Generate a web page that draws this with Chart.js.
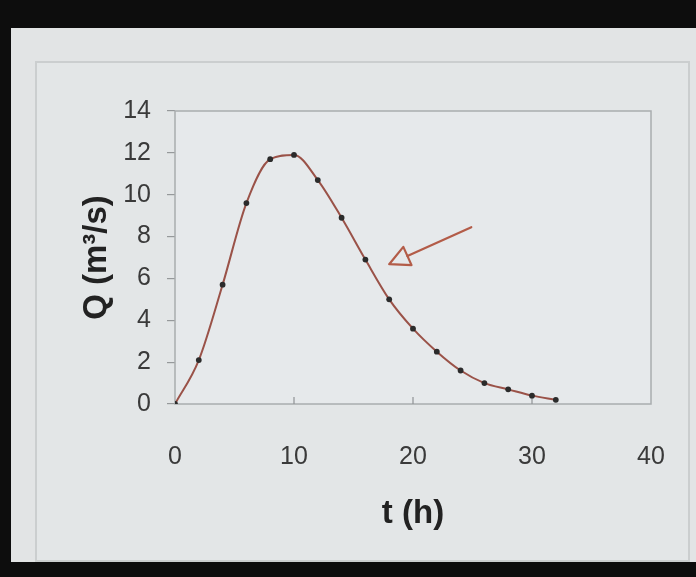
<!DOCTYPE html>
<html>
<head>
<meta charset="utf-8">
<script src="https://cdn.jsdelivr.net/npm/chart.js@4/dist/chart.umd.min.js"></script>
<style>
  html, body { margin: 0; padding: 0; background: #0d0d0d; width: 696px; height: 577px; overflow: hidden; }
  #slide { position: absolute; left: 11px; top: 28px; width: 685px; height: 534px; background: #e2e4e5; }
  #frame { position: absolute; left: 35px; top: 61px; width: 651px; height: 497px; border: 2px solid #cbcecf; background: #e3e6e7; }
  #wrap { position: absolute; left: 0; top: 0; width: 696px; height: 577px; }
</style>
</head>
<body>
<div id="slide"></div>
<div id="frame"></div>
<div id="wrap"><canvas id="c" width="696" height="577"></canvas></div>
<script>
// ---- data ----
const timeHours = [0, 2, 4, 6, 8, 10, 12, 14, 16, 18, 20, 22, 24, 26, 28, 30, 32];
const flowQ     = [0, 2.1, 5.7, 9.6, 11.7, 11.9, 10.7, 8.9, 6.9, 5.0, 3.6, 2.5, 1.6, 1.0, 0.7, 0.4, 0.2];
const xTicks = [0, 10, 20, 30, 40];
const yTicks = [0, 2, 4, 6, 8, 10, 12, 14];
// hand-drawn arrow annotation (data coordinates: tail -> tip)
const arrowTail = { x: 24.9, y: 8.45 };
const arrowTip  = { x: 18.0, y: 6.68 };

const points = timeHours.map((t, i) => ({ x: t, y: flowQ[i] }));

const framePlugin = {
  id: 'framePlugin',
  beforeDraw(chart) {
    const { ctx, chartArea: a } = chart;
    ctx.save();
    ctx.fillStyle = '#e6e9eb';
    ctx.fillRect(a.left, a.top, a.right - a.left, a.bottom - a.top);
    ctx.restore();
  },
  beforeDatasetsDraw(chart) {
    const { ctx, chartArea: a, scales } = chart;
    ctx.save();
    ctx.strokeStyle = '#a9adaf';
    ctx.lineWidth = 1.5;
    ctx.strokeRect(a.left, a.top, a.right - a.left, a.bottom - a.top);
    // inward x ticks
    ctx.strokeStyle = '#8f9395';
    ctx.lineWidth = 1.2;
    xTicks.forEach(v => {
      if (v === 0 || v === 40) return;
      const px = scales.x.getPixelForValue(v);
      ctx.beginPath();
      ctx.moveTo(px, a.bottom);
      ctx.lineTo(px, a.bottom - 7);
      ctx.stroke();
    });
    ctx.restore();
  },
  afterDatasetsDraw(chart) {
    const { ctx, scales } = chart;
    const x1 = scales.x.getPixelForValue(arrowTail.x), y1 = scales.y.getPixelForValue(arrowTail.y);
    const x2 = scales.x.getPixelForValue(arrowTip.x),  y2 = scales.y.getPixelForValue(arrowTip.y);
    const ang = Math.atan2(y2 - y1, x2 - x1);
    const hl = 20, hw = 10;
    const bx = x2 - hl * Math.cos(ang), by = y2 - hl * Math.sin(ang);
    const nx = -Math.sin(ang), ny = Math.cos(ang);
    ctx.save();
    ctx.strokeStyle = '#b35c48';
    ctx.lineWidth = 2.2;
    ctx.lineCap = 'round';
    ctx.lineJoin = 'round';
    ctx.beginPath();
    ctx.moveTo(x1, y1);
    ctx.lineTo(bx, by);
    ctx.stroke();
    ctx.beginPath();
    ctx.moveTo(x2, y2);
    ctx.lineTo(bx + nx * hw, by + ny * hw);
    ctx.lineTo(bx - nx * hw, by - ny * hw);
    ctx.closePath();
    ctx.stroke();
    ctx.restore();
  }
};

new Chart(document.getElementById('c'), {
  type: 'line',
  data: {
    datasets: [{
      data: points,
      borderColor: '#9a5248',
      borderWidth: 2,
      cubicInterpolationMode: 'monotone',
      pointRadius: 2.9,
      pointBackgroundColor: '#2b2b2b',
      pointBorderColor: '#2b2b2b',
      pointBorderWidth: 0,
      fill: false
    }]
  },
  options: {
    responsive: false,
    animation: false,
    events: [],
    layout: { padding: { left: 60, top: 111, right: 45, bottom: 43 } },
    plugins: { legend: { display: false }, tooltip: { enabled: false } },
    scales: {
      x: {
        type: 'linear',
        min: 0, max: 40,
        afterBuildTicks: s => { s.ticks = xTicks.map(v => ({ value: v })); },
        afterFit: s => { s.height = 130; s.paddingRight = 0; s.paddingLeft = 0; },
        grid: { display: false, drawTicks: false },
        border: { display: false },
        ticks: {
          padding: 38,
          color: '#3a3a3a',
          font: { family: '"Liberation Sans", Arial, sans-serif', size: 25 },
          maxRotation: 0
        },
        title: {
          display: true,
          text: 't (h)',
          color: '#222',
          padding: { top: 0, bottom: 0 },
          font: { family: '"Liberation Sans", Arial, sans-serif', size: 33, weight: 'bold' }
        }
      },
      y: {
        min: 0, max: 14,
        afterBuildTicks: s => { s.ticks = yTicks.map(v => ({ value: v })); },
        afterFit: s => { s.width = 115; s.paddingTop = 0; s.paddingBottom = 0; },
        grid: { drawOnChartArea: false, drawTicks: true, tickLength: 8, color: '#96999b', lineWidth: 1.2 },
        border: { display: false },
        ticks: {
          padding: 16,
          color: '#3a3a3a',
          font: { family: '"Liberation Sans", Arial, sans-serif', size: 25 }
        },
        title: {
          display: true,
          text: 'Q (m³/s)',
          color: '#222',
          padding: { top: 17, bottom: 0 },
          font: { family: '"Liberation Sans", Arial, sans-serif', size: 33, weight: 'bold' }
        }
      }
    }
  },
  plugins: [framePlugin]
});
</script>
</body>
</html>
